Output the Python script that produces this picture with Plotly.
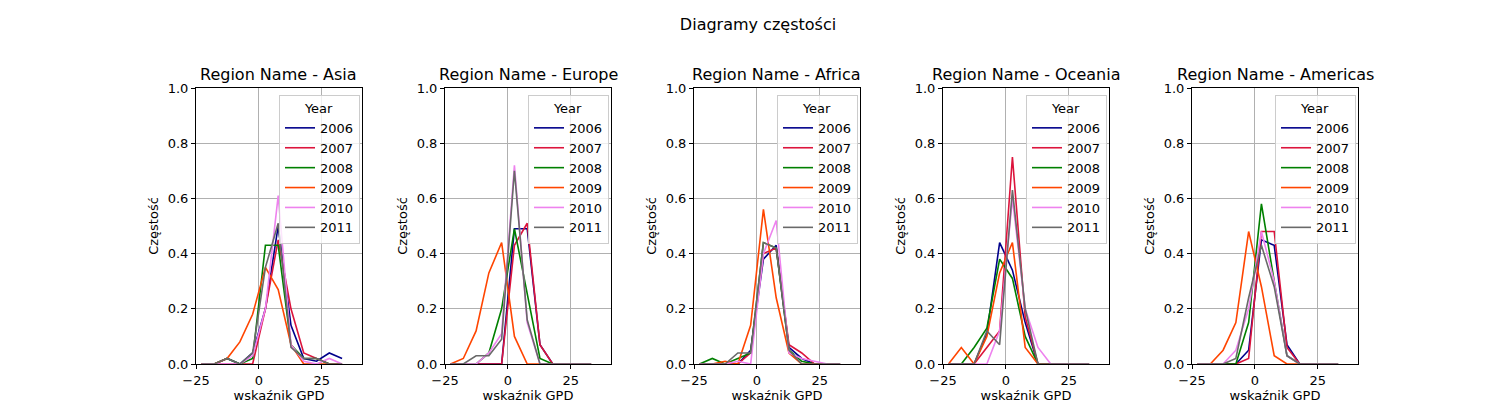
import plotly.graph_objects as go

# bin centres of the GPD indicator histograms
gpd_bins = [-22.8 + 5.08 * i for i in range(12)]
years = ["2006", "2007", "2008", "2009", "2010", "2011"]
colors = ["darkblue", "crimson", "green", "orangered", "violet", "dimgray"]
regions = ["Asia", "Europe", "Africa", "Oceania", "Americas"]

asia = [
    [0, 0, 0.02, 0, 0.04, 0.2, 0.5, 0.14, 0.02, 0.01, 0.04, 0.02],
    [0, 0, 0, 0, 0, 0.2, 0.45, 0.2, 0.04, 0.02, 0, 0],
    [0, 0, 0.02, 0, 0.02, 0.43, 0.43, 0.07, 0.02, 0.02, 0, 0],
    [0, 0, 0.02, 0.08, 0.18, 0.35, 0.27, 0.07, 0, 0, 0, 0],
    [0, 0, 0, 0, 0.03, 0.2, 0.61, 0.07, 0.01, 0, 0.02, 0],
    [0, 0, 0.02, 0, 0.04, 0.35, 0.51, 0.06, 0.02, 0.02, 0, 0],
]
europe = [
    [0, 0, 0, 0, 0, 0.49, 0.49, 0.07, 0, 0, 0, 0],
    [0, 0, 0, 0, 0, 0.43, 0.51, 0.07, 0, 0, 0, 0],
    [0, 0, 0, 0.04, 0.2, 0.49, 0.25, 0.02, 0, 0, 0, 0],
    [0, 0.02, 0.12, 0.33, 0.44, 0.1, 0, 0, 0, 0, 0, 0],
    [0, 0, 0, 0.04, 0.11, 0.72, 0.15, 0, 0, 0, 0, 0],
    [0, 0, 0.03, 0.03, 0.09, 0.7, 0.16, 0, 0, 0, 0, 0],
]
africa = [
    [0, 0, 0, 0, 0.05, 0.38, 0.43, 0.06, 0.02, 0, 0, 0],
    [0, 0, 0, 0, 0.04, 0.4, 0.42, 0.07, 0.04, 0, 0, 0],
    [0, 0.02, 0, 0.02, 0.04, 0.44, 0.42, 0.05, 0.01, 0, 0, 0],
    [0, 0, 0.01, 0, 0.14, 0.56, 0.24, 0.04, 0, 0, 0, 0],
    [0, 0, 0, 0.01, 0, 0.4, 0.52, 0.04, 0.02, 0.01, 0, 0],
    [0, 0, 0, 0.04, 0.04, 0.44, 0.42, 0.05, 0, 0, 0, 0],
]
oceania = [
    [0, 0, 0, 0.11, 0.44, 0.34, 0.15, 0, 0, 0, 0, 0],
    [0, 0, 0, 0.06, 0.12, 0.75, 0.17, 0, 0, 0, 0, 0],
    [0, 0, 0.06, 0.13, 0.38, 0.31, 0.1, 0, 0, 0, 0, 0],
    [0, 0.06, 0, 0.1, 0.33, 0.44, 0.06, 0, 0, 0, 0, 0],
    [0, 0, 0, 0, 0.12, 0.6, 0.2, 0.06, 0, 0, 0, 0],
    [0, 0, 0, 0.12, 0.07, 0.63, 0.2, 0, 0, 0, 0, 0],
]
americas = [
    [0, 0, 0, 0, 0.05, 0.45, 0.43, 0.07, 0, 0, 0, 0],
    [0, 0, 0, 0, 0.02, 0.48, 0.48, 0.06, 0, 0, 0, 0],
    [0, 0, 0, 0, 0.15, 0.58, 0.3, 0.03, 0, 0, 0, 0],
    [0, 0, 0.05, 0.15, 0.48, 0.28, 0.03, 0, 0, 0, 0, 0],
    [0, 0, 0, 0.05, 0.2, 0.48, 0.3, 0.03, 0, 0, 0, 0],
    [0, 0, 0, 0.02, 0.24, 0.43, 0.28, 0.03, 0, 0, 0, 0],
]
region_data = [asia, europe, africa, oceania, americas]

W, H = 1500, 400
left_px = [188, 437, 686, 935, 1184]
width_px = 166
top_px, bottom_px = 80, 356

font = "DejaVu Sans"
fig = go.Figure()
annotations = []
layout = {}

for k, (reg, data) in enumerate(zip(regions, region_data)):
    n = "" if k == 0 else str(k + 1)
    x0 = left_px[k] / W
    x1 = (left_px[k] + width_px) / W
    y0 = 1 - bottom_px / H
    y1 = 1 - top_px / H
    leg = "legend" + n
    for yr, col, vals in zip(years, colors, data):
        fig.add_trace(go.Scatter(
            x=gpd_bins, y=vals, mode="lines", name=yr,
            line=dict(color=col, width=1.6),
            xaxis="x" + n, yaxis="y" + n, legend=leg,
        ))
    axstyle = dict(showline=True, linecolor="black", mirror=True, ticks="outside",
                   ticklen=4, tickcolor="black", showgrid=True, gridcolor="#b0b0b0",
                   zeroline=False, automargin=False,
                   tickfont=dict(size=13, color="black"))
    layout["xaxis" + n] = dict(domain=[x0, x1], range=[-25, 41], tickvals=[-25, 0, 25],
                               anchor="y" + n,
                               title=dict(text="wskaźnik GPD", font=dict(size=13), standoff=4),
                               **axstyle)
    layout["yaxis" + n] = dict(domain=[y0, y1], range=[0, 1], dtick=0.2, tickformat=".1f",
                               anchor="x" + n,
                               title=dict(text="Częstość", font=dict(size=13), standoff=6),
                               **axstyle)
    layout[leg] = dict(x=x1 - 2 / W, xanchor="right", y=y1 - 7 / H, yanchor="top",
                       title=dict(text="Year", side="top center", font=dict(size=13)),
                       bgcolor="rgba(255,255,255,0.8)", bordercolor="#cccccc",
                       borderwidth=1, font=dict(size=13))
    annotations.append(dict(text="Region Name - " + reg, x=(x0 + x1) / 2, y=y1,
                            xref="paper", yref="paper", xanchor="center", yanchor="bottom",
                            yshift=2, showarrow=False, font=dict(size=16, color="black")))

fig.update_layout(
    width=W, height=H, margin=dict(l=0, r=0, t=0, b=0, autoexpand=False),
    plot_bgcolor="white", paper_bgcolor="white",
    font=dict(family=font, color="black"),
    title=dict(text="Diagramy częstości", x=0.5, xanchor="center", y=1 - 16 / H,
               yanchor="middle", font=dict(size=16)),
    annotations=annotations,
    **layout,
)

fig.write_html("out.html")
